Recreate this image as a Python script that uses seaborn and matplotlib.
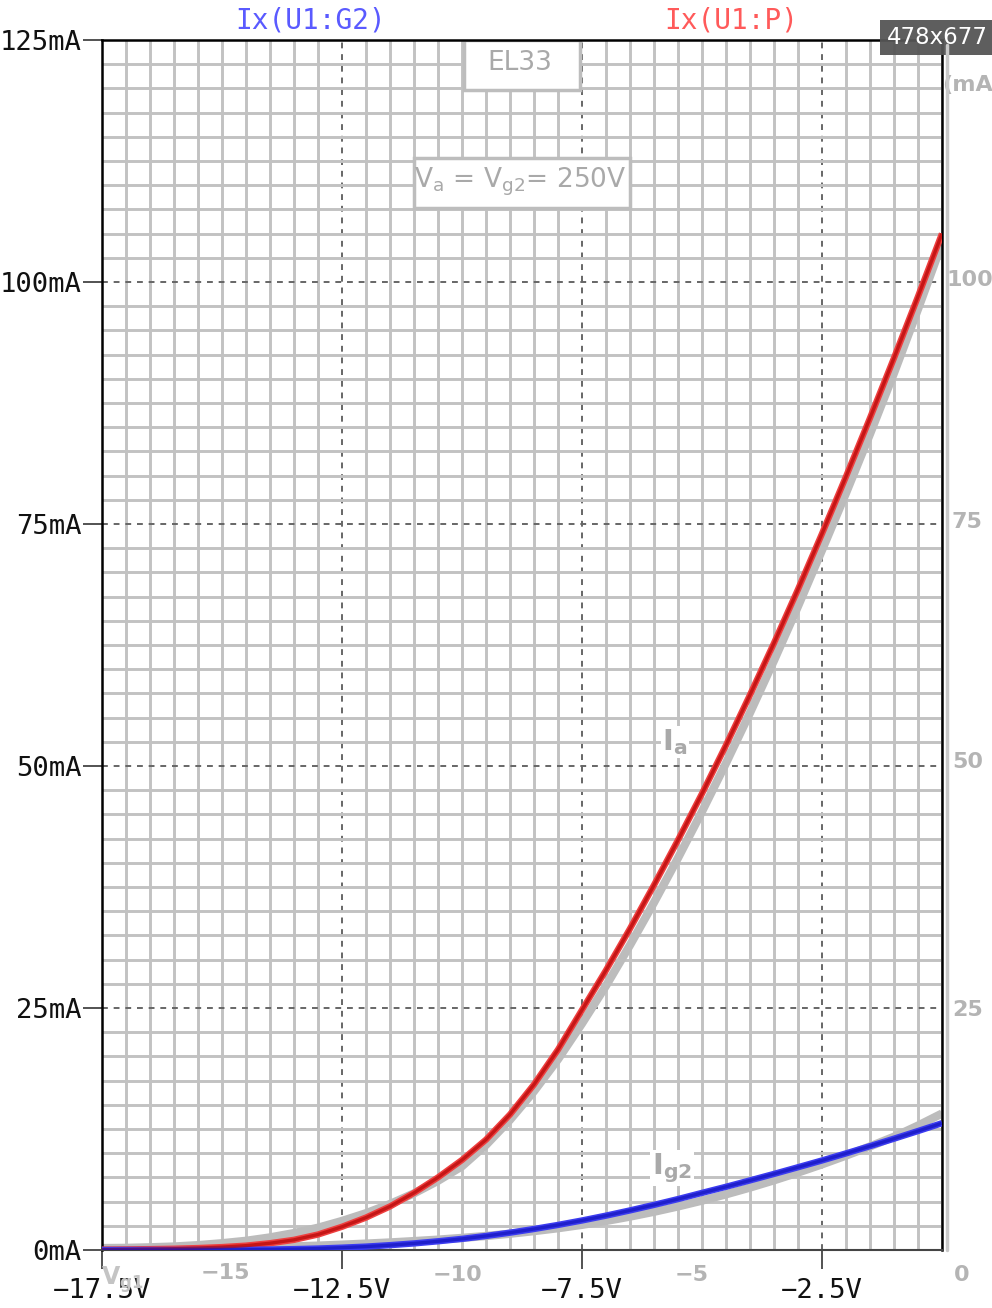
import numpy as np
import pandas as pd
import matplotlib
matplotlib.use("Agg")
import matplotlib.pyplot as plt
import seaborn as sns
from matplotlib.ticker import MultipleLocator, FixedLocator
from matplotlib.patches import Rectangle
from matplotlib.lines import Line2D

# ---------------- data ----------------
vg1 = [-17.5, -17, -16.5, -16, -15.5, -15, -14.5, -14, -13.5, -13, -12.5, -12,
       -11.5, -11, -10.5, -10, -9.5, -9, -8.5, -8, -7.5, -7, -6.5, -6, -5.5,
       -5, -4.5, -4, -3.5, -3, -2.5, -2, -1.5, -1, -0.5, 0]
ia_sim = [0.04, 0.06, 0.09, 0.13, 0.2, 0.3, 0.45, 0.7, 1.05, 1.6, 2.4, 3.35,
          4.5, 5.9, 7.5, 9.3, 11.4, 14.0, 17.1, 20.7, 24.8, 28.9, 33.2, 37.7, 42.35,
          47.15, 52.15, 57.35, 62.7, 68.25, 74.0, 79.9, 85.95, 92.15, 98.5, 105.0]
ig2_sim = [0.0, 0.0, 0.0, 0.0, 0.01, 0.02, 0.03, 0.05, 0.09, 0.15, 0.24, 0.35,
           0.5, 0.68, 0.9, 1.15, 1.45, 1.79, 2.17, 2.59, 3.05, 3.55, 4.09, 4.66, 5.26,
           5.9, 6.53, 7.19, 7.86, 8.55, 9.25, 9.98, 10.73, 11.5, 12.29, 13.1]
# datasheet (scanned) curves, drawn in grey underneath
ia_sheet = [0.2, 0.22, 0.28, 0.36, 0.5, 0.7, 0.95, 1.3, 1.75, 2.3, 3.0, 3.8,
            4.75, 5.85, 7.15, 8.65, 10.85, 13.45, 16.4, 19.7, 23.4, 27.3, 31.5, 35.9,
            40.5, 45.3, 50.3, 55.5, 60.9, 66.5, 72.3, 78.2, 84.3, 90.6, 97.2, 104.0]
ig2_sheet = [0.07, 0.08, 0.1, 0.12, 0.15, 0.19, 0.24, 0.3, 0.37, 0.45, 0.55, 0.66,
             0.78, 0.92, 1.07, 1.25, 1.45, 1.68, 1.95, 2.25, 2.6, 3.0, 3.45, 3.95,
             4.5, 5.1, 5.75, 6.45, 7.2, 8.0, 8.85, 9.75, 10.7, 11.7, 12.85, 14.1]

x_ticks = [-17.5, -12.5, -7.5, -2.5]
x_labels = ["\u221217.5V", "\u221212.5V", "\u22127.5V", "\u22122.5V"]
y_ticks = [0, 25, 50, 75, 100, 125]
y_labels = ["0mA", "25mA", "50mA", "75mA", "100mA", "125mA"]

df_sheet = pd.DataFrame({
    "V": vg1 * 2,
    "I": ia_sheet + ig2_sheet,
    "trace": ["Ia"] * len(vg1) + ["Ig2"] * len(vg1),
})
df_sim = pd.DataFrame({
    "V": vg1 * 2,
    "I": ia_sim + ig2_sim,
    "trace": ["Ix(U1:P)"] * len(vg1) + ["Ix(U1:G2)"] * len(vg1),
})

# ---------------- figure ----------------
sns.set_theme(style="white")
plt.rcParams["font.family"] = ["DejaVu Sans"]
W, H = 992, 1308
fig = plt.figure(figsize=(W / 100, H / 100), dpi=100)
ax = fig.add_axes([102 / W, 1 - 1250 / H, (942 - 102) / W, (1250 - 40) / H])


def fx(px):
    return px / W


def fy(py):
    return 1 - py / H


ax.set_xlim(-17.5, 0)
ax.set_ylim(0, 125)

# graph paper grid
ax.xaxis.set_major_locator(FixedLocator(x_ticks))
ax.yaxis.set_major_locator(FixedLocator(y_ticks))
ax.xaxis.set_minor_locator(MultipleLocator(0.5))
ax.yaxis.set_minor_locator(MultipleLocator(2.5))
ax.grid(which="minor", color="#c2c2c2", lw=2.1, zorder=0)
ax.grid(which="major", color="#666666", lw=1.4, ls=(0, (3, 3)), zorder=0.5)
ax.set_axisbelow(True)

# scanned curves (grey)
sns.lineplot(data=df_sheet, x="V", y="I", units="trace", estimator=None,
             color="#bcbcbc", lw=6, ax=ax, legend=False, zorder=2,
             solid_capstyle="butt")

# simulated curves
pal_wide = {"Ix(U1:P)": "#ee4040", "Ix(U1:G2)": "#3c3cf0"}
pal_core = {"Ix(U1:P)": "#b00000", "Ix(U1:G2)": "#1010b8"}
sns.lineplot(data=df_sim, x="V", y="I", hue="trace", palette=pal_wide,
             lw=4.6, ax=ax, legend=False, zorder=3, solid_capstyle="butt")
sns.lineplot(data=df_sim, x="V", y="I", hue="trace", palette=pal_core,
             lw=2.4, alpha=0.65, ax=ax, legend=False, zorder=4,
             solid_capstyle="butt")

# ticks and labels
ax.set_xticklabels(x_labels)
ax.set_yticklabels(y_labels)
mono = "DejaVu Sans Mono"
for t in ax.get_xticklabels() + ax.get_yticklabels():
    t.set_fontfamily(mono)
    t.set_fontsize(19.6)
    t.set_color("#111111")
ax.tick_params(axis="x", which="major", direction="out", length=14, width=1.3,
               color="#444444", pad=6, bottom=True)
ax.tick_params(axis="y", which="major", direction="out", length=14, width=1.3,
               color="#444444", pad=0.5, left=True)
ax.tick_params(which="minor", length=0)
ax.set_xlabel("")
ax.set_ylabel("")

for s in ["top", "left", "right"]:
    ax.spines[s].set_color("black")
    ax.spines[s].set_linewidth(1.8)
ax.spines["bottom"].set_color("#444444")
ax.spines["bottom"].set_linewidth(1.5)

# scanned-in labels
grey = "#a9a9a9"
ax.add_patch(Rectangle((-17.5 + (464 - 102) / 48, 125 - (90 - 40) / 9.68),
                       (580 - 464) / 48, (90 - 40) / 9.68,
                       facecolor="white", edgecolor="#bdbdbd", lw=2.5, zorder=1))
ax.text(-17.5 + (520 - 102) / 48, 125 - (63 - 40) / 9.68, "EL33", color=grey,
        fontsize=19, ha="center", va="center", zorder=1.5)
ax.add_patch(Rectangle((-17.5 + (414 - 102) / 48, 125 - (208 - 40) / 9.68),
                       (630 - 414) / 48, (208 - 158) / 9.68,
                       facecolor="white", edgecolor="#bdbdbd", lw=2.5, zorder=1))
ax.text(-17.5 + (520 - 102) / 48, 125 - (182 - 40) / 9.68,
        r"V$_\mathregular{a}$ = V$_\mathregular{g2}$= 250V", color=grey,
        fontsize=19, ha="center", va="center", zorder=1.5)
ax.text(-17.5 + (675 - 102) / 48, 125 - (742 - 40) / 9.68,
        r"I$_\mathbf{a}$", color=grey, fontsize=21, fontweight="bold",
        ha="center", va="center", zorder=1.5,
        bbox=dict(facecolor="white", edgecolor="none", pad=1))
ax.text(-17.5 + (672 - 102) / 48, 125 - (1168 - 40) / 9.68,
        r"I$_\mathbf{g2}$", color=grey, fontsize=21, fontweight="bold",
        ha="center", va="center", zorder=1.5,
        bbox=dict(facecolor="white", edgecolor="none", pad=1))

# scanned border on the right
fig.add_artist(Line2D([fx(947), fx(947)], [fy(45), fy(1250)], color="#c8c8c8",
                      lw=2.5))

# scanned right-side scale and bottom scale
for txt, px, py in [("100", 970, 280), ("75", 967, 522), ("50", 968, 762),
                    ("25", 968, 1010), ("0", 962, 1275), ("(mA", 968, 85),
                    ("\u221215", 225, 1273), ("\u221210", 458, 1275),
                    ("\u22125", 692, 1275)]:
    fig.text(fx(px), fy(py), txt, color="#b4b4b4", fontsize=16,
             fontweight="bold", ha="center", va="center", zorder=0)
fig.text(fx(122), fy(1280), r"V$_\mathbf{g1}$", color="#c4c4c4",
         fontsize=17, fontweight="bold", ha="center", va="center", zorder=0)

# trace titles
fig.text(fx(311), fy(21), "Ix(U1:G2)", color="#5a5aff", fontsize=20,
         family=mono, ha="center", va="center")
fig.text(fx(731), fy(21), "Ix(U1:P)", color="#ff5a5a", fontsize=20,
         family=mono, ha="center", va="center")

# size badge
fig.add_artist(Rectangle((fx(880), fy(55)), fx(992) - fx(880), fy(20) - fy(55),
                         facecolor="#555555", edgecolor="none", alpha=0.95,
                         transform=fig.transFigure))
fig.text(fx(937), fy(38), "478x677", color="white", fontsize=16.5,
         ha="center", va="center")

fig.savefig("out.png", dpi=100)
